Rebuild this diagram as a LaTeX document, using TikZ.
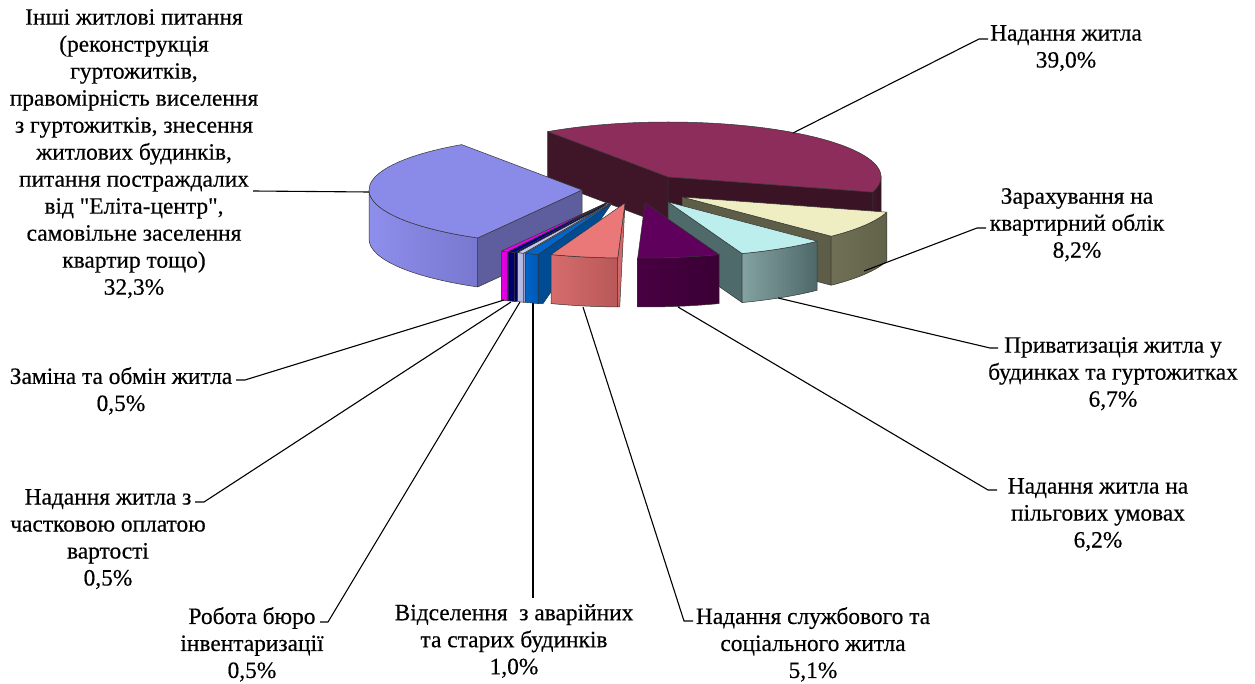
\documentclass[tikz,border=0pt]{standalone}
\usepackage{fontspec}
\setmainfont{Liberation Serif}[Ligatures=TeXOff]
\newfontfamily\lblfont{Liberation Serif}[Ligatures=TeXOff, FakeBold=0.4]
\usetikzlibrary{calc}

% slice geometry: ellipse radii 213 x 55, thickness 49
\newcommand\slicetop[4]{% apex, from, to, colour
  \path[rim, fill=#4] (#1) -- ($(#1)+(#2:213 and 55)$)
    arc[start angle=#2, end angle=#3, x radius=213, y radius=55] -- cycle;}
\newcommand\slicewall[5]{% apex, from, to, left colour, right colour
  \path[rim, left color=#4, right color=#5] ($(#1)+(#2:213 and 55)$)
    arc[start angle=#2, end angle=#3, x radius=213, y radius=55] -- ++(0,-49)
    arc[start angle=#3, end angle=#2, x radius=213, y radius=55] -- cycle;}
\newcommand\slicecut[3]{% apex, angle, colour
  \path[rim, fill=#3] (#1) -- ($(#1)+(#2:213 and 55)$) -- ++(0,-49)
    -- ($(#1)+(0,-49)$) -- cycle;}
% radial face seen almost edge-on: a narrow wedge from the rim to the apex
\newcommand\slicesliver[4]{% apex, angle, colour, width at the bottom
  \path[rim, fill=#3] (#1) -- ($(#1)+(#2:213 and 55)$) -- ++(0,-49)
    -- ++(#4,0) -- cycle;}

% slice colours
\definecolor{plumTop}{HTML}{8C2D5C}
\definecolor{plumCutA}{HTML}{3E1628}
\definecolor{plumCutB}{HTML}{3A1424}
\definecolor{plumWallL}{HTML}{3E1628}
\definecolor{plumWallR}{HTML}{361220}
\definecolor{periTop}{HTML}{8A8AE8}
\definecolor{periCut}{HTML}{5E5E9E}
\definecolor{periWallL}{HTML}{8E8EEC}
\definecolor{periWallR}{HTML}{7878D0}
\definecolor{ivoryTop}{HTML}{EEEEC2}
\definecolor{ivoryCut}{HTML}{5E5E48}
\definecolor{ivoryWallL}{HTML}{707056}
\definecolor{ivoryWallR}{HTML}{62624A}
\definecolor{turqTop}{HTML}{BDEEEE}
\definecolor{turqCut}{HTML}{4E6A6A}
\definecolor{turqWallL}{HTML}{84A2A2}
\definecolor{turqWallR}{HTML}{4E6868}
\definecolor{purpTop}{HTML}{5E005C}
\definecolor{purpWallL}{HTML}{480042}
\definecolor{purpWallR}{HTML}{3A0034}
\definecolor{coralTop}{HTML}{EB7878}
\definecolor{coralCut}{HTML}{D26868}
\definecolor{coralWallL}{HTML}{D66C6C}
\definecolor{coralWallR}{HTML}{B85858}
\definecolor{oceanTop}{HTML}{0066CC}
\definecolor{oceanCut}{HTML}{004C94}
\definecolor{oceanWallL}{HTML}{0064C8}
\definecolor{oceanWallR}{HTML}{0058B4}
\definecolor{iceTop}{HTML}{C4C8EE}
\definecolor{iceCut}{HTML}{9A9EC4}
\definecolor{iceWallL}{HTML}{BCC0E4}
\definecolor{iceWallR}{HTML}{B0B4DA}
\definecolor{navyTop}{HTML}{000088}
\definecolor{navyCut}{HTML}{000058}
\definecolor{navyWallL}{HTML}{000076}
\definecolor{navyWallR}{HTML}{000068}
\definecolor{pinkTop}{HTML}{EE00EE}
\definecolor{pinkCut}{HTML}{A000A0}
\definecolor{pinkWallL}{HTML}{E200E2}
\definecolor{pinkWallR}{HTML}{D800D8}

\begin{document}
\begin{tikzpicture}[x=1pt, y=1pt,
  rim/.style={draw=black!80, line width=0.5pt, line join=round},
  lbl/.style={align=center, inner sep=0pt, anchor=north,
              font=\lblfont\fontsize{23.4}{27}\selectfont},
  lead/.style={draw=black, line width=1.1pt, line join=miter}]
\useasboundingbox (0,0) rectangle (1255,-684);

% apex of every exploded slice
\coordinate (pA) at (668,-177);  % Надання житла
\coordinate (pI) at (582,-190);  % Інші
\coordinate (pB) at (682,-197);  % Зарахування
\coordinate (pC) at (668,-202);  % Приватизація
\coordinate (pD) at (645,-203);  % пільгові умови
\coordinate (pE) at (625,-203);  % службове житло
\coordinate (pF) at (612,-203);  % відселення
\coordinate (pG) at (610,-203);  % бюро інвентаризації
\coordinate (pH) at (607,-203);  % часткова оплата
\coordinate (pK) at (606,-203);  % заміна та обмін

% Надання житла (39,0%)
\slicecut{pA}{124.4}{plumCutA}
\slicecut{pA}{-16}{plumCutB}
\slicewall{pA}{-16}{0}{plumWallL}{plumWallR}
\slicetop{pA}{-16}{124.4}{plumTop}

% Інші (32,3%)
\slicecut{pI}{240.68}{periCut}
\slicewall{pI}{180}{240.68}{periWallL}{periWallR}
\slicetop{pI}{124.4}{240.68}{periTop}

% Зарахування (8,2%)
\slicecut{pB}{-45.52}{ivoryCut}
\slicewall{pB}{-45.52}{-16}{ivoryWallL}{ivoryWallR}
\slicetop{pB}{-45.52}{-16}{ivoryTop}

% Приватизація (6,7%)
\slicecut{pC}{-69.64}{turqCut}
\slicewall{pC}{-69.64}{-45.52}{turqWallL}{turqWallR}
\slicetop{pC}{-69.64}{-45.52}{turqTop}

% заміна та обмін (0,5%)
\slicesliver{pK}{-117.52}{pinkCut}{2}
\slicewall{pK}{-119.32}{-117.52}{pinkWallL}{pinkWallR}
\slicetop{pK}{-119.32}{-117.52}{pinkTop}

% часткова оплата (0,5%)
\slicesliver{pH}{-115.72}{navyCut}{2}
\slicewall{pH}{-117.52}{-115.72}{navyWallL}{navyWallR}
\slicetop{pH}{-117.52}{-115.72}{navyTop}

% бюро інвентаризації (0,5%)
\slicesliver{pG}{-113.92}{iceCut}{2}
\slicewall{pG}{-115.72}{-113.92}{iceWallL}{iceWallR}
\slicetop{pG}{-115.72}{-113.92}{iceTop}

% відселення (1,0%)
\slicesliver{pF}{-110.32}{oceanCut}{5}
\slicewall{pF}{-113.92}{-110.32}{oceanWallL}{oceanWallR}
\slicetop{pF}{-113.92}{-110.32}{oceanTop}

% службове житло (5,1%)
\slicesliver{pE}{-91.96}{coralCut}{2}
\slicewall{pE}{-110.32}{-91.96}{coralWallL}{coralWallR}
\slicetop{pE}{-110.32}{-91.96}{coralTop}

% пільгові умови (6,2%)
\slicewall{pD}{-91.96}{-69.64}{purpWallL}{purpWallR}
\slicetop{pD}{-91.96}{-69.64}{purpTop}

% labels
\node[lbl] (l1) at (1066,-25) {Надання житла\\39,0\%};
\node[lbl] (l2) at (1077,-188) {Зарахування на\\квартирний облік\\8,2\%};
\node[lbl] (l3) at (1113,-337) {Приватизація житла у\\будинках та гуртожитках\\6,7\%};
\node[lbl] (l4) at (1098,-478) {Надання житла на\\пільгових умовах\\6,2\%};
\node[lbl] (l5) at (813,-607) {Надання службового та\\соціального житла\\5,1\%};
\node[lbl] (l6) at (514,-604) {Відселення~ з аварійних\\та старих будинків\\1,0\%};
\node[lbl] (l7) at (252,-607) {Робота бюро\\інвентаризації\\0,5\%};
\node[lbl] (l8) at (108,-489) {Надання житла з\\частковою оплатою\\вартості\\0,5\%};
\node[lbl] (l9) at (121,-367) {Заміна та обмін житла\\0,5\%};
\node[lbl] (l10) at (134,-9) {Інші житлові питання\\(реконструкція\\гуртожитків,\\правомірність виселення\\з гуртожитків, знесення\\житлових будинків,\\питання постраждалих\\від "Еліта-центр",\\самовільне заселення\\квартир тощо)\\32,3\%};

% leader line ends on the slices
\coordinate (e1) at (793,-133);
\coordinate (e2) at (864,-271);
\coordinate (e3) at (778,-298);
\coordinate (e4) at (678,-307);
\coordinate (e5) at (583,-307);
\coordinate (e6) at (533,-303);
\coordinate (e7) at (520,-302);
\coordinate (e8) at (511,-302);
\coordinate (e9) at (504,-300);
\coordinate (e10) at (369,-192);

% leader line bends next to the labels
\coordinate (t1) at (979,-39);   \coordinate (h1) at (988,-39);
\coordinate (t2) at (977,-228);  \coordinate (h2) at (986,-228);
\coordinate (t3) at (990,-348);  \coordinate (h3) at (998,-348);
\coordinate (t4) at (988,-490);  \coordinate (h4) at (997,-490);
\coordinate (t5) at (684,-621);  \coordinate (h5) at (693,-621);
\coordinate (t6) at (533,-598);
\coordinate (t7) at (328,-622);  \coordinate (h7) at (320,-622);
\coordinate (t8) at (204,-502);  \coordinate (h8) at (195,-502);
\coordinate (t9) at (245,-380);  \coordinate (h9) at (236,-380);
\coordinate (t10) at (253,-191);

\draw[lead] (e1) -- (t1) -- (h1);
\draw[lead] (e2) -- (t2) -- (h2);
\draw[lead] (e3) -- (t3) -- (h3);
\draw[lead] (e4) -- (t4) -- (h4);
\draw[lead] (e5) -- (t5) -- (h5);
\draw[lead] (e6) -- (t6);
\draw[lead] (e7) -- (t7) -- (h7);
\draw[lead] (e8) -- (t8) -- (h8);
\draw[lead] (e9) -- (t9) -- (h9);
\draw[lead] (e10) -- (t10);
\end{tikzpicture}
\end{document}
